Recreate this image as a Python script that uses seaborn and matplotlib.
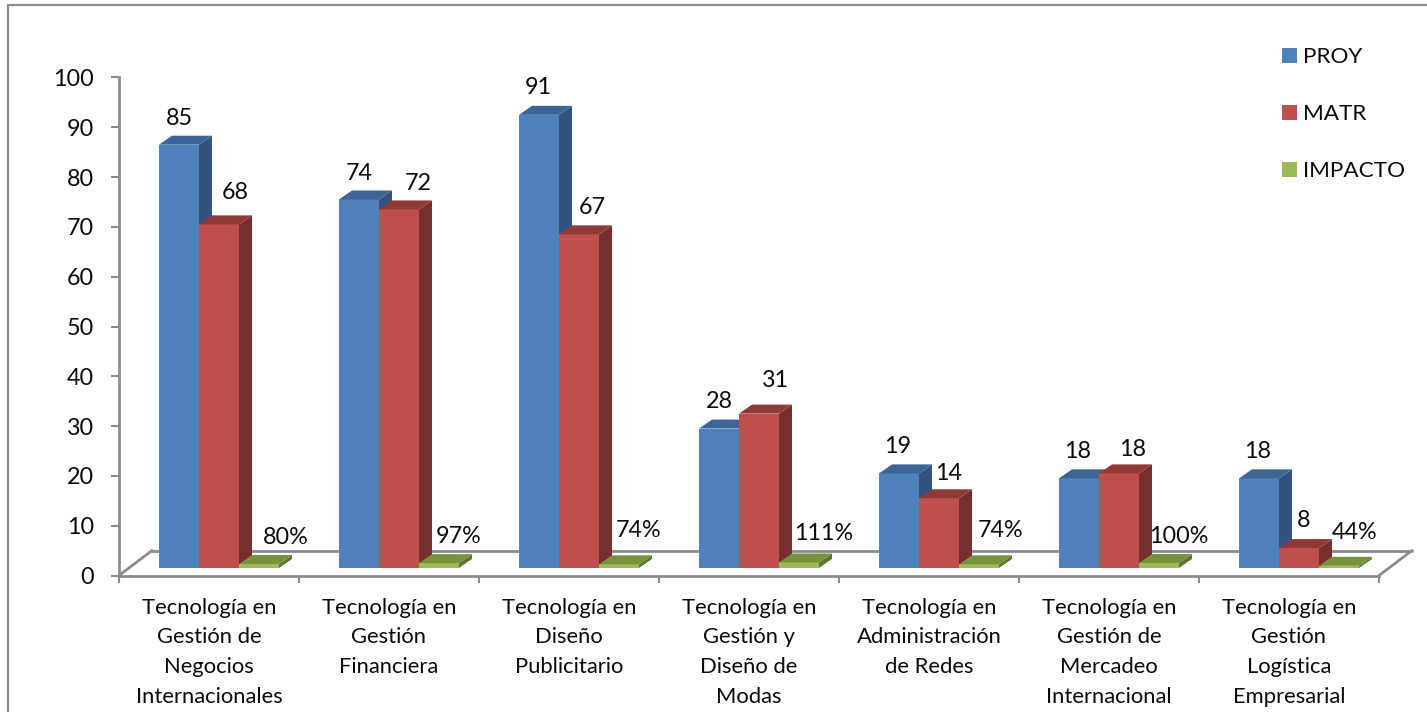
import matplotlib
matplotlib.use("Agg")
import matplotlib.pyplot as plt
from matplotlib.lines import Line2D
from matplotlib.patches import Polygon
import pandas as pd
import seaborn as sns

categories = [
    "Tecnología en\nGestión de\nNegocios\nInternacionales",
    "Tecnología en\nGestión\nFinanciera",
    "Tecnología en\nDiseño\nPublicitario",
    "Tecnología en\nGestión y\nDiseño de\nModas",
    "Tecnología en\nAdministración\nde Redes",
    "Tecnología en\nGestión de\nMercadeo\nInternacional",
    "Tecnología en\nGestión\nLogística\nEmpresarial",
]
series_names = ["PROY", "MATR", "IMPACTO"]
proy = [85, 74, 91, 28, 19, 18, 18]
matr_drawn = [69, 72, 67, 31, 14, 19, 4]
impacto = [0.80, 0.97, 0.74, 1.11, 0.74, 1.00, 0.44]
proy_labels = ["85", "74", "91", "28", "19", "18", "18"]
matr_labels = ["68", "72", "67", "31", "14", "18", "8"]
impacto_labels = ["80%", "97%", "74%", "111%", "74%", "100%", "44%"]
y_ticks = list(range(0, 101, 10))

# label nudges, in pixels, relative to each bar's top centre
nudge_x = [[0, 0, -1, 0, -1, -1, -1],
           [16, 19, 13, 16, 10, 14, 5],
           [27, 20, 20, 25, 22, 20, 16]]
nudge_y = [[26, 26, 27, 27, 27, 27, 27],
           [32, 26, 27, 33, 25, 24, 28],
           [27, 27, 34, 29, 34, 27, 33]]

front = ["#4F81BD", "#C0504D", "#9BBB59"]
top = ["#3C6595", "#903A38", "#76923C"]
side = ["#325380", "#772F2E", "#5F7630"]
GREY = "#8C8C8C"
INK = "#0A0A0A"
W, H = 1427, 712
DX, DY = 13, 9

sns.set_theme(style="white")
plt.rcParams["font.family"] = ["Lato", "DejaVu Sans"]

fig = plt.figure(figsize=(W / 100, H / 100), dpi=100, facecolor="white")
ax = fig.add_axes([119 / W, (H - 575.5) / H, 1260 / W, 498 / H])
ax2 = fig.add_axes([129 / W, (H - 568) / H, 1260 / W, 498 / H], facecolor="none")

# frame of the chart area
fig.add_artist(Line2D([8 / W, 8 / W, 1], [0, (H - 5) / H, (H - 5) / H],
                      color=GREY, lw=1.6, transform=fig.transFigure))

# axis with floor
ax.set_xlim(-0.5, 6.5)
ax.set_ylim(0, 100)
ax.set_yticks(y_ticks)
ax.set_xticks([i - 0.5 for i in range(8)])
ax.set_xticklabels([])
ax.set_xticks(range(7), labels=categories, minor=True)
ax.tick_params(axis="x", which="major", length=5, width=1.5, color=GREY, bottom=True)
ax.tick_params(axis="x", which="minor", length=0, pad=16, labelsize=15.8, labelcolor=INK)
ax.tick_params(axis="y", length=6, width=1.5, color=GREY, left=True, pad=12,
               labelsize=16.8, labelcolor=INK)
for lab in ax.get_xticklabels(minor=True):
    lab.set_linespacing(1.6)
for name in ("top", "right"):
    ax.spines[name].set_visible(False)
for name in ("left", "bottom"):
    ax.spines[name].set_color(GREY)
    ax.spines[name].set_linewidth(2)
p0 = ax.transAxes.transform((0, 0))
p1 = ax.transAxes.transform((1, 0))
for xa, ya in (p0, p1):
    ax.add_line(Line2D([xa, xa + 33], [ya, ya + 25], color=GREY, lw=2,
                       transform=None, clip_on=False))
ax.add_line(Line2D([p0[0] + 33, p1[0] + 33], [p0[1] + 25, p1[1] + 25], color=GREY, lw=2,
                   transform=None, clip_on=False))

# bars
df = pd.DataFrame({
    "cat": categories * 3,
    "serie": [s for s in series_names for _ in categories],
    "val": proy + matr_drawn + impacto,
})
sns.barplot(data=df, x="cat", y="val", hue="serie", order=categories, hue_order=series_names,
            palette=front, saturation=1, width=2 / 3, gap=0, ax=ax2, linewidth=0)
ax2.set_xlim(-0.5, 6.5)
ax2.set_ylim(0, 100)
ax2.axis("off")
handles, _ = ax2.get_legend_handles_labels()
ax2.get_legend().remove()

all_labels = [proy_labels, matr_labels, impacto_labels]
for s, cont in enumerate(ax2.containers):
    for i, bar in enumerate(cont):
        x0, y1 = bar.get_x(), bar.get_height()
        x1 = x0 + bar.get_width()
        px = ax2.transData.transform([(x0, 0), (x1, 0), (x1, y1), (x0, y1)])
        (a, b), (c, _), (_, d), _ = px
        bar.set_zorder(3 + s)
        ax2.add_patch(Polygon([(c, b), (c + DX, b + DY), (c + DX, d + DY), (c, d)],
                              closed=True, fc=side[s], ec="none", transform=None, zorder=3 + s))
        ax2.add_patch(Polygon([(a, d), (c, d), (c + DX, d + DY), (a + DX, d + DY)],
                              closed=True, fc=top[s], ec="none", transform=None, zorder=3 + s))
        ax2.annotate(all_labels[s][i], ((x0 + x1) / 2, y1), xycoords="data",
                     xytext=(nudge_x[s][i] * 0.72, nudge_y[s][i] * 0.72),
                     textcoords="offset points", ha="center", va="center",
                     fontsize=16.8, color=INK, zorder=10)

# legend
fig.legend(handles, series_names, loc="upper left",
           bbox_to_anchor=(1282 / W, (H - 47) / H), frameon=False, fontsize=16.2,
           handlelength=0.66, handleheight=0.66, handletextpad=0.27, labelspacing=1.65,
           borderpad=0, borderaxespad=0, labelcolor=INK)

fig.savefig("out.png", dpi=100, facecolor="white")
